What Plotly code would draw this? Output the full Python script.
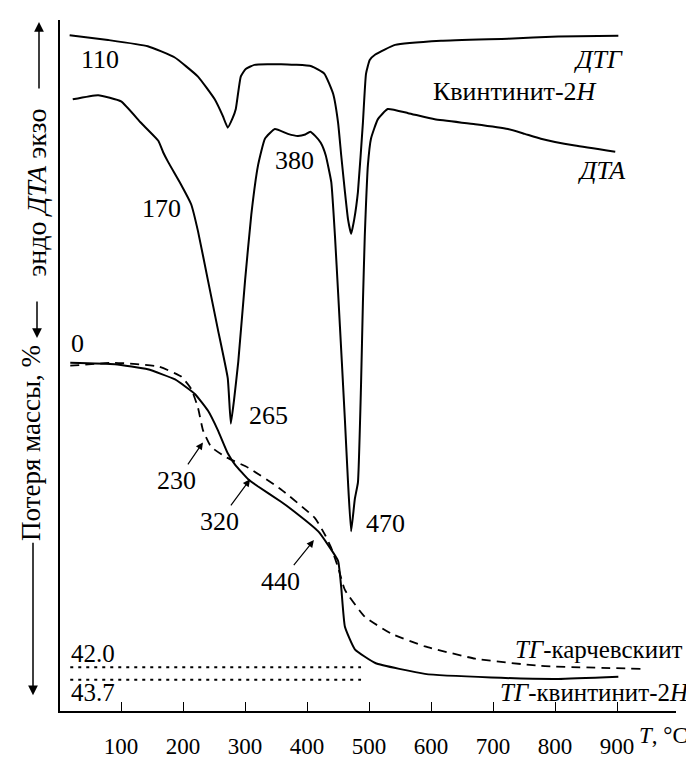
import plotly.graph_objects as go

# ---------------- data ----------------
# DTG (arbitrary units, higher = exo)
T_DTG = [17, 79, 143, 186, 224, 251, 264, 272, 280, 285, 293, 301, 315, 358, 407, 428,
         442, 450, 455, 461, 466, 471, 476, 482, 490, 495, 501, 510, 542, 616, 724, 805, 902]
DTG = [97.8, 97.1, 96.2, 94.6, 91.8, 88.5, 86.1, 84.4, 85.8, 87.1, 91.8, 92.9, 93.5, 93.6, 93.3, 92.2,
       89.3, 85.1, 80.4, 75.1, 71.1, 69.0, 71.1, 75.1, 85.1, 92.2, 94.2, 95.0, 96.4, 97.0, 97.3, 97.6, 97.7]

# DTA (arbitrary units, higher = exo)
T_DTA = [22, 63, 100, 132, 160, 168, 176, 197, 213, 224, 240, 256, 272, 277, 282, 289, 300, 310,
         321, 332, 348, 369, 385, 397, 405, 413, 422, 430, 439, 445, 450, 456, 461, 466, 471,
         477, 482, 487, 490, 493, 495, 498, 503, 514, 530, 563, 606, 671, 724, 751, 777, 832, 897]
DTA = [88.5, 89.1, 88.2, 85.1, 82.5, 80.8, 79.4, 76.1, 73.3, 69.4, 62.3, 55.2, 48.1, 41.5, 44.8, 50.5, 62.3, 71.8,
       79.0, 82.8, 84.2, 83.5, 83.2, 83.4, 83.8, 83.2, 82.2, 80.4, 76.5, 68.6, 60.5, 50.5, 42.0, 33.0, 25.9,
       30.6, 33.0, 47.2, 59.0, 68.6, 73.3, 78.9, 82.8, 85.6, 87.1, 86.5, 85.6, 84.9, 84.2, 83.5, 82.8, 81.8, 80.9]

# TG, mass loss % : quintinite-2H (solid)
T_TG_Q = [18, 90, 143, 187, 219, 240, 256, 272, 284, 305, 321, 358, 374, 418, 434, 450, 455, 461,
          477, 510, 590, 697, 805, 902]
TG_Q = [-0.1, 0.1, 0.8, 2.2, 4.2, 6.5, 9.2, 12.4, 14.0, 16.0, 17.0, 19.1, 20.1, 23.2, 25.1, 27.3, 30.9, 36.4,
        39.5, 41.4, 42.9, 43.4, 43.6, 43.3]

# TG, mass loss % : karchevskyite (dashed)
T_TG_K = [18, 90, 160, 197, 213, 224, 232, 245, 268, 305, 358, 413, 429, 439, 450, 461, 493, 535,
          590, 671, 777, 939]
TG_K = [0.3, -0.1, 0.4, 1.8, 3.5, 6.1, 9.2, 11.5, 12.9, 14.4, 17.4, 21.4, 23.7, 25.5, 28.2, 31.3, 35.0, 37.3,
        39.1, 40.8, 41.8, 42.2]

# total mass-loss reference levels
LOSS_LEVELS = [42.0, 43.7]
LOSS_LABELS = ["42.0", "43.7"]
LOSS_T = [18, 487]

# x axis ticks
TICK_VALS = [100, 200, 300, 400, 500, 600, 700, 800, 900]
TICK_TEXT = [str(v) for v in TICK_VALS]

# peak temperature labels
PEAK_LABELS = ["110", "170", "380", "265", "470"]
STEP_LABELS = ["230", "320", "440"]
STEP_T = [232, 308, 411]
STEP_TG = [10.9, 16.0, 24.4]

# ---------------- layout geometry ----------------
W, H = 694, 763
L, R, TOP, BOT = 52, 26, 12, 47
PW, PH = W - L - R, H - TOP - BOT
FONT = "Liberation Serif, Times New Roman, Times, serif"
FS = 26
KX = 0.62          # px per degree
T0 = 1.45          # temperature at left plot edge


def xp(px):
    return (px - L) / PW


def yp(py):
    return (TOP + PH - py) / PH


fig = go.Figure()
line = dict(color="black", width=2, shape="spline", smoothing=0.4)
fig.add_trace(go.Scatter(x=T_DTG, y=DTG, mode="lines", line=line, yaxis="y", hoverinfo="skip"))
fig.add_trace(go.Scatter(x=T_DTA, y=DTA, mode="lines", line=line, yaxis="y", hoverinfo="skip"))
fig.add_trace(go.Scatter(x=T_TG_Q, y=TG_Q, mode="lines", line=line, yaxis="y2", hoverinfo="skip"))
fig.add_trace(go.Scatter(x=T_TG_K, y=TG_K, mode="lines",
                         line=dict(color="black", width=1.8, shape="spline", smoothing=0.4, dash="9px,6px"),
                         yaxis="y2", hoverinfo="skip"))
for lv in LOSS_LEVELS:
    fig.add_trace(go.Scatter(x=LOSS_T, y=[lv, lv], mode="lines",
                             line=dict(color="black", width=2, dash="3px,5px"),
                             yaxis="y2", hoverinfo="skip"))

ann = []


def txt(s, px, py, size=FS, anchor="center", angle=0):
    ann.append(dict(text=s, x=xp(px), y=yp(py), xref="paper", yref="paper", showarrow=False,
                    xanchor=anchor, yanchor="middle", textangle=angle,
                    font=dict(family=FONT, size=size, color="black")))


# peak labels
pos = [(92, 52), (153, 204), (286, 155), (260, 415), (377, 525)]
for s, (px, py) in zip(PEAK_LABELS, pos):
    txt(s, px, py)
txt("0", 69, 342)

# step arrows (text with arrow to TG curve)
offs = [(-26, 38), (-31, 42), (-33, 41)]
for s, t, v, (ax, ay) in zip(STEP_LABELS, STEP_T, STEP_TG, offs):
    ann.append(dict(text=s, x=t, y=v, xref="x", yref="y2", ax=ax, ay=ay, axref="pixel", ayref="pixel",
                    showarrow=True, arrowhead=2, arrowsize=1.2, arrowwidth=1.2, arrowcolor="black",
                    standoff=0, startstandoff=0,
                    font=dict(family=FONT, size=FS, color="black")))

# curve names
txt("<i>ДТГ</i>", 590, 52)
txt("Квинтинит-2<i>H</i>", 507, 85)
txt("<i>ДТА</i>", 593, 165)
txt("<i>ТГ</i>-карчевскиит", 677, 653, size=25, anchor="right")
txt("<i>ТГ</i>-квинтинит-2<i>H</i>", 684, 697, size=25, anchor="right")

# mass loss level labels
txt(LOSS_LABELS[0], 85, 657, size=25)
txt(LOSS_LABELS[1], 85, 697, size=25)

# x-axis title
txt("<i>T</i>, °C", 655, 741, size=23)

# left vertical texts
txt("эндо <i>ДТА</i> экзо", 29, 188, size=28, angle=-90)
txt("Потеря массы, %", 23, 443, size=27, angle=-90)


def arrow(x0, y0, x1, y1):
    ann.append(dict(text="", x=xp(x1), y=yp(y1), xref="paper", yref="paper",
                    ax=x0 - x1, ay=y0 - y1, axref="pixel", ayref="pixel",
                    showarrow=True, arrowhead=2, arrowsize=1.3, arrowwidth=1.5, arrowcolor="black",
                    standoff=0, startstandoff=0))


arrow(31, 82, 31, 14)
arrow(29, 298, 29, 336)
arrow(25, 546, 25, 700)

fig.update_layout(
    width=W, height=H,
    margin=dict(l=L, r=R, t=TOP, b=BOT),
    paper_bgcolor="white", plot_bgcolor="white",
    showlegend=False,
    font=dict(family=FONT, size=FS, color="black"),
    xaxis=dict(range=[T0, T0 + PW / KX], tickvals=TICK_VALS, ticktext=TICK_TEXT,
               ticks="inside", ticklen=9, tickwidth=1.2, tickcolor="black",
               showline=True, linecolor="black", linewidth=1.5,
               showgrid=False, zeroline=False, ticklabelstandoff=14,
               tickfont=dict(family=FONT, size=23, color="black")),
    yaxis=dict(range=[100 - PH / 7.03, 100], showline=True, linecolor="black", linewidth=1.5,
               showticklabels=False, ticks="", showgrid=False, zeroline=False),
    yaxis2=dict(range=[-47.49 + PH / 7.37, -47.49], overlaying="y", visible=False,
                showgrid=False, zeroline=False),
    annotations=ann,
)

fig.write_html("out.html")
